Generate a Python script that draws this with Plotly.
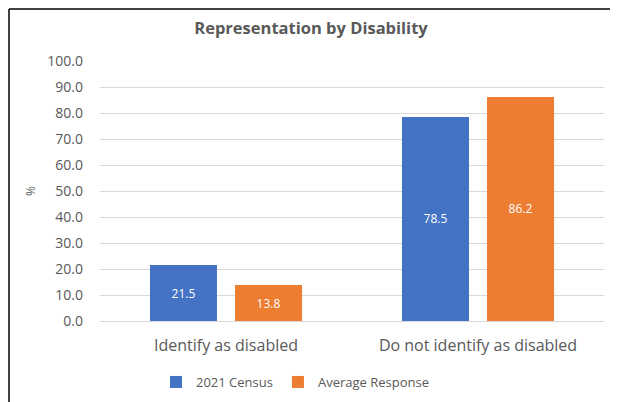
import plotly.graph_objects as go

categories = ["Identify as disabled", "Do not identify as disabled"]
census_2021 = [21.5, 78.5]
average_response = [13.8, 86.2]
y_ticks = [0, 10, 20, 30, 40, 50, 60, 70, 80, 90, 100]

FONT = "Open Sans, sans-serif"
GREY = "#595959"

# the page shows the figure offset by the default 8px body margin
OFF = 8
W, H = 618, 402
PL, PR, PT, PB = 100 - OFF, 604 - OFF, 61 - OFF, 321 - OFF  # plot area in figure px
PW, PH = PR - PL, PB - PT

fig = go.Figure()
fig.add_trace(go.Bar(
    x=categories, y=census_2021, name="2021 Census",
    marker=dict(color="#4472C4", line=dict(width=0)),
    text=[f"{v:.1f}" for v in census_2021], textposition="inside",
    insidetextanchor="middle", textangle=0,
    textfont=dict(color="white", size=12, family=FONT),
))
fig.add_trace(go.Bar(
    x=categories, y=average_response, name="Average Response",
    marker=dict(color="#ED7D31", line=dict(width=0)),
    text=[f"{v:.1f}" for v in average_response], textposition="inside",
    insidetextanchor="middle", textangle=0,
    textfont=dict(color="white", size=12, family=FONT),
))

fig.update_layout(
    width=W, height=H,
    margin=dict(l=PL, r=W - PR, t=PT, b=H - PB),
    paper_bgcolor="white", plot_bgcolor="white",
    font=dict(family=FONT, color=GREY, size=12),
    title=dict(text="<b>Representation by Disability</b>", x=(311 - OFF) / W, xanchor="center",
               xref="container", y=1 - (28 - OFF) / H, yanchor="middle", yref="container",
               font=dict(size=16.5, color=GREY, family=FONT)),
    barmode="group", bargap=0.325, bargroupgap=0.212,
    showlegend=True,
    legend=dict(orientation="h", xref="container", x=(295 - OFF) / W, xanchor="center",
                yref="container", y=1 - (382 - OFF) / H, yanchor="middle",
                font=dict(size=13, color=GREY, family=FONT), traceorder="normal"),
    uniformtext=dict(mode=False),
    annotations=[dict(text="%", xref="paper", yref="paper", x=(30 - OFF - PL) / PW, y=0.5,
                      xanchor="center", yanchor="middle",
                      showarrow=False, textangle=-90,
                      font=dict(size=12, color=GREY, family=FONT))],
)
fig.update_yaxes(
    range=[0, 100], tickvals=y_ticks, ticktext=[f"{v:.1f}" for v in y_ticks],
    showgrid=True, gridcolor="#D9D9D9", gridwidth=1, zeroline=False,
    showline=False, ticks="", ticklabelstandoff=16, automargin=False,
    tickfont=dict(size=14, color=GREY, family=FONT),
)
fig.update_xaxes(
    showline=True, linecolor="#D9D9D9", linewidth=1, ticks="", automargin=False,
    tickfont=dict(size=16, color=GREY, family=FONT), ticklabelstandoff=10,
)

# outer chart border (top and left edges visible in the reference)
top_y = (PB - 1) / PH
left_x = (1 - PL) / PW
fig.add_shape(type="line", xref="paper", yref="paper",
              x0=left_x, x1=(W - PL) / PW, y0=top_y, y1=top_y,
              line=dict(color="black", width=1.5))
fig.add_shape(type="line", xref="paper", yref="paper",
              x0=left_x, x1=left_x, y0=top_y, y1=(PB - H) / PH,
              line=dict(color="black", width=1.5))

fig.write_html("out.html")
